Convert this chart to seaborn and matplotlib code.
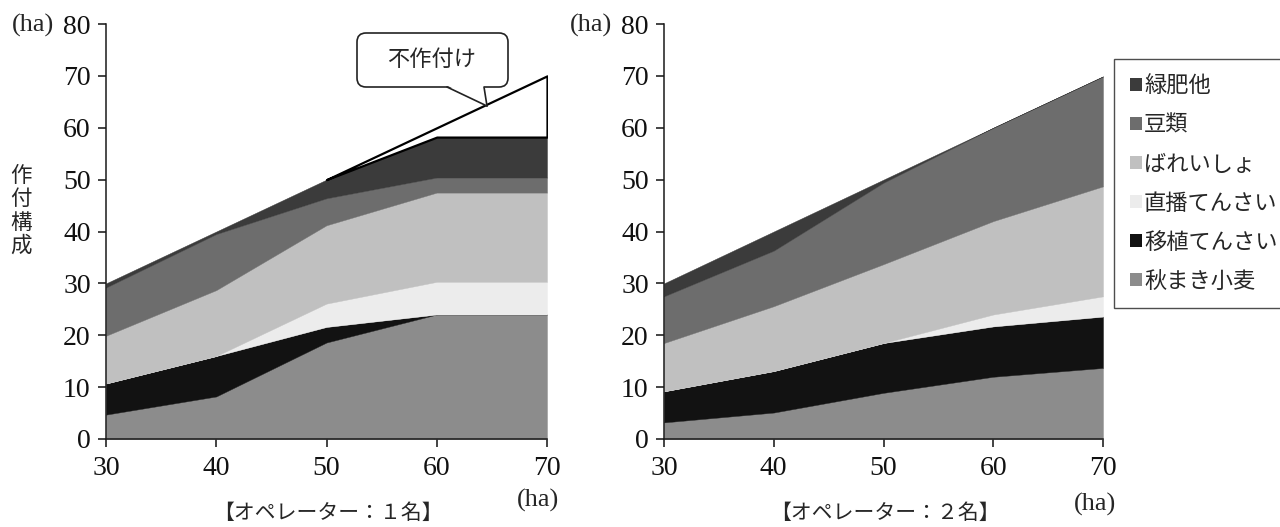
import numpy as np
import matplotlib
matplotlib.use("Agg")
import matplotlib.pyplot as plt
import seaborn as sns
from matplotlib.patches import Patch, FancyBboxPatch, Polygon
from matplotlib.lines import Line2D

# ------------------------------------------------------------
# Daten (ha), von unten nach oben gestapelt
# ------------------------------------------------------------
farm_size = [30, 40, 50, 60, 70]
crop_names = ["秋まき小麦", "移植てんさい", "直播てんさい", "ばれいしょ", "豆類", "緑肥他"]
crop_colors = ["#8c8c8c", "#121212", "#ececec", "#c0c0c0", "#6d6d6d", "#3b3b3b"]

# オペレーター 1名
wheat_1 = [4.7, 8.2, 18.6, 24.0, 24.0]
tbeet_1 = [6.0, 7.8, 3.0, 0.0, 0.0]
dbeet_1 = [0.0, 0.0, 4.5, 6.3, 6.3]
potato_1 = [9.2, 12.7, 15.1, 17.2, 17.2]
beans_1 = [9.3, 10.8, 5.2, 2.9, 2.9]
green_1 = [0.8, 0.5, 3.6, 7.8, 7.8]

# オペレーター 2名
wheat_2 = [3.2, 5.1, 8.9, 12.0, 13.7]
tbeet_2 = [6.0, 8.0, 9.6, 9.7, 9.9]
dbeet_2 = [0.0, 0.0, 0.0, 2.3, 3.9]
potato_2 = [9.3, 12.5, 15.2, 18.0, 21.2]
beans_2 = [9.0, 10.7, 15.7, 18.0, 21.2]
green_2 = [2.5, 3.7, 0.6, 0.0, 0.0]

panel_titles = ["【オペレーター：１名】", "【オペレーター：２名】"]

# ------------------------------------------------------------
# Stil
# ------------------------------------------------------------
sns.set_style("ticks")
SERIF = ["Liberation Serif", "DejaVu Serif"]
JP = ["Noto Sans CJK JP", "DejaVu Sans"]
plt.rcParams["font.family"] = JP
plt.rcParams["axes.edgecolor"] = "#1a1a1a"
plt.rcParams["axes.linewidth"] = 1.1

W, H = 1280, 527
fig = plt.figure(figsize=(W / 100, H / 100), dpi=100)
ax1 = fig.add_axes([106 / W, 1 - 439 / H, 441 / W, 415 / H])
ax2 = fig.add_axes([664 / W, 1 - 439 / H, 439 / W, 415 / H])

panels = [
    (ax1, [wheat_1, tbeet_1, dbeet_1, potato_1, beans_1, green_1]),
    (ax2, [wheat_2, tbeet_2, dbeet_2, potato_2, beans_2, green_2]),
]

x = np.array(farm_size, dtype=float)
for ax, layers in panels:
    ax.stackplot(x, *layers, colors=crop_colors, edgecolor="face", linewidth=0.3)
    ax.set_xlim(30, 70)
    ax.set_ylim(0, 80)
    ax.set_xticks(farm_size)
    ax.set_yticks(range(0, 81, 10))
    ax.tick_params(axis="both", direction="out", length=6, width=1.1,
                   colors="#111111", labelsize=20)
    ax.tick_params(axis="x", pad=6)
    ax.tick_params(axis="y", pad=5)
    for lab in ax.get_xticklabels() + ax.get_yticklabels():
        lab.set_family(SERIF)
    sns.despine(ax=ax)
    ax.patch.set_alpha(0)

# 不作付け (nur 1名): Fläche zwischen Anbausumme und Betriebsfläche
planted_1 = np.sum([wheat_1, tbeet_1, dbeet_1, potato_1, beans_1, green_1], axis=0)
unplanted_1 = x - planted_1
mask = (unplanted_1 > 0.05) | (np.r_[unplanted_1[1:], 0] > 0.05)
ax1.fill_between(x, planted_1, x, where=mask, facecolor="white",
                 edgecolor="black", linewidth=1.6, zorder=3)

# Sprechblase "不作付け" (in Zoll, Figurkoordinaten)
tr = fig.dpi_scale_trans
box = FancyBboxPatch((3.57, 4.40), 1.51, 0.54,
                     boxstyle="round,pad=0,rounding_size=0.09",
                     transform=tr, fc="white", ec="#222222", lw=1.2, zorder=10)
fig.add_artist(box)
wedge_l, wedge_r, wedge_tip = (4.47, 4.415), (4.84, 4.415), (4.87, 4.21)
fig.add_artist(Polygon([wedge_l, wedge_r, wedge_tip], closed=True,
                       transform=tr, fc="white", ec="none", zorder=11))
for base in (wedge_l, wedge_r):
    fig.add_artist(Line2D([base[0], wedge_tip[0]], [4.40, wedge_tip[1]],
                          transform=tr, color="#222222", lw=1.2, zorder=12))
fig.text(432 / W, 1 - 59 / H, "不作付け", fontsize=16, ha="center",
         va="center", zorder=13)

# Achsentexte
for px, py in [(33, 25), (591, 25), (538, 500), (1095, 504)]:
    fig.text(px / W, 1 - py / H, "(ha)", family=SERIF, fontsize=19,
             ha="center", va="center")
fig.text(21 / W, 1 - 211 / H, "\n".join("作付構成"), fontsize=15.5,
         ha="center", va="center", linespacing=1.08)
fig.text(328 / W, 1 - 513 / H, panel_titles[0], fontsize=15,
         ha="center", va="center")
fig.text(885 / W, 1 - 513 / H, panel_titles[1], fontsize=15,
         ha="center", va="center")

# Legende (oben nach unten = Stapel umgekehrt)
handles = [Patch(facecolor=c, edgecolor="none") for c in crop_colors][::-1]
leg = fig.legend(handles, crop_names[::-1], loc="upper left",
                 bbox_to_anchor=(1114 / W, 1 - 59 / H),
                 fontsize=16, frameon=True, fancybox=False,
                 handlelength=0.55, handleheight=0.55, handletextpad=0.1,
                 labelspacing=0.72, borderpad=0.7, borderaxespad=0)
leg.get_frame().set_edgecolor("#222222")
leg.get_frame().set_linewidth(1.0)

fig.savefig("out.png", dpi=100, facecolor="white")
